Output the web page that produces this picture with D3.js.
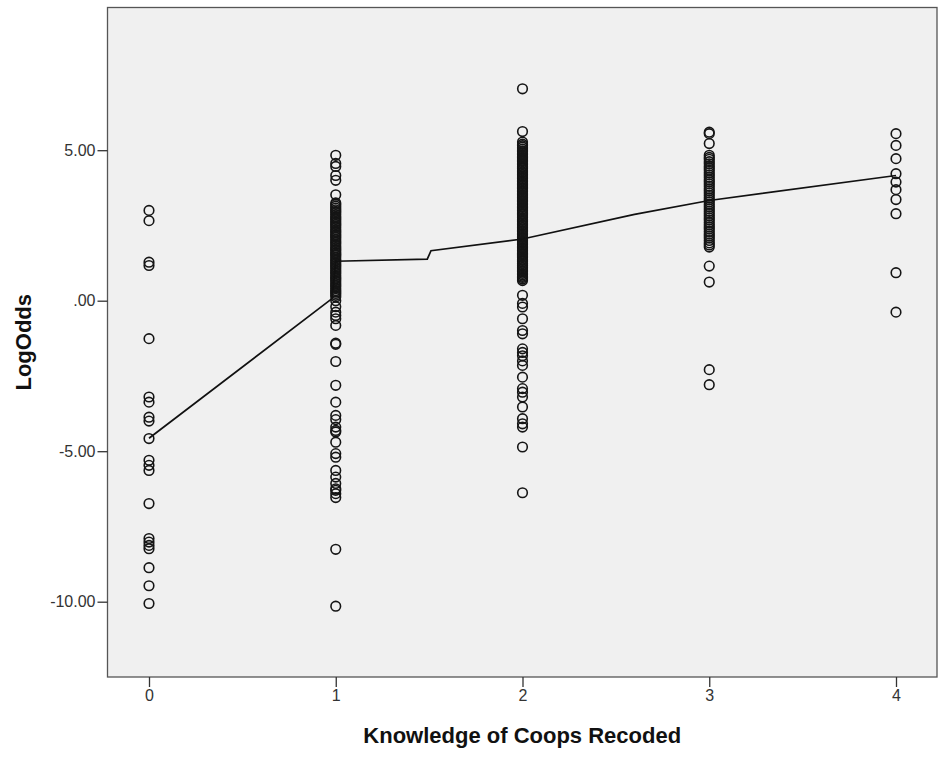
<!DOCTYPE html>
<html>
<head>
<meta charset="utf-8">
<script src="https://cdn.jsdelivr.net/npm/d3@7"></script>
<style>
  body { margin: 0; background: #fff; }
  svg { display: block; font-family: "Liberation Sans", Arial, sans-serif; }
</style>
</head>
<body>
<svg id="chart"></svg>
<script>
// data
var categories = [0, 1, 2, 3, 4];
var yTicks = [-10, -5, 0, 5];

var cat0 = [3.0, 2.66, 1.28, 1.17, -1.26, -3.2, -3.37, -3.87, -4.0, -4.58,
  -5.3, -5.47, -5.64, -6.74, -7.9, -8.02, -8.13, -8.24, -8.87, -9.47, -10.06];

var cat1 = [4.83, 4.56, 4.46, 4.16, 4.0, 3.52,
  3.25, 3.2, 3.14, 3.08, 3.02, 2.97, 2.92, 2.86, 2.8, 2.75, 2.7, 2.64, 2.58,
  2.53, 2.48, 2.42, 2.36, 2.31, 2.26, 2.2, 2.15, 2.1, 2.04, 1.98, 1.93, 1.88,
  1.82, 1.76, 1.71, 1.66, 1.6, 1.55, 1.5, 1.44, 1.38, 1.33, 1.28, 1.22, 1.17,
  1.12, 1.06, 1.0, 0.95, 0.9, 0.84, 0.78, 0.73, 0.68, 0.62, 0.56, 0.51, 0.46,
  0.4, 0.34, 0.29, 0.24, 0.18, 0.12,
  0.0, -0.2, -0.38, -0.49, -0.6, -0.82, -1.41, -1.45,
  -2.02, -2.81, -3.37, -3.81, -3.95, -4.2, -4.31, -4.36, -4.7, -5.08, -5.2,
  -5.64, -5.86, -6.07, -6.25, -6.3, -6.41, -6.54, -8.26, -10.15];

var cat2 = [7.04, 5.62,
  5.27, 5.2, 5.15, 5.1, 5.04, 4.98, 4.95, 4.9, 4.85, 4.8, 4.76, 4.71, 4.66,
  4.62, 4.57, 4.52, 4.47, 4.43, 4.38, 4.33, 4.28, 4.24, 4.19, 4.14, 4.1, 4.05,
  4.0, 3.95, 3.9, 3.86, 3.81, 3.76, 3.72, 3.67, 3.62, 3.57, 3.52, 3.48, 3.43,
  3.38, 3.33, 3.29, 3.24, 3.19, 3.14, 3.1, 3.05, 3.0, 2.95, 2.9, 2.86, 2.81,
  2.76, 2.71, 2.67, 2.62, 2.57, 2.52, 2.48, 2.43, 2.38, 2.33, 2.29, 2.24, 2.19,
  2.14, 2.1, 2.05, 2.0, 1.95, 1.91, 1.86, 1.81, 1.76, 1.72, 1.67, 1.62, 1.57,
  1.53, 1.48, 1.43, 1.38, 1.34, 1.29, 1.24, 1.19, 1.15, 1.1, 1.05, 1.0, 0.96,
  0.91, 0.86, 0.81, 0.77, 0.72, 0.67,
  0.18, -0.09, -0.21, -0.6, -0.99, -1.1, -1.6, -1.72, -1.83, -2.0, -2.15, -2.54,
  -2.92, -3.04, -3.2, -3.53, -3.92, -4.09, -4.2, -4.86, -6.38];

var cat3 = [5.6, 5.55, 5.22,
  4.83, 4.76, 4.7, 4.62, 4.55, 4.47, 4.4, 4.33, 4.25, 4.18, 4.1, 4.02, 3.95,
  3.88, 3.8, 3.72, 3.65, 3.58, 3.5, 3.42, 3.35, 3.28, 3.2, 3.12, 3.05, 2.97,
  2.9, 2.82, 2.75, 2.68, 2.6, 2.52, 2.45, 2.38, 2.3, 2.22, 2.15, 2.08, 2.0,
  1.92, 1.85, 1.78,
  1.15, 0.62, -2.29, -2.79];

var cat4 = [5.55, 5.16, 4.72, 4.22, 3.94, 3.69, 3.36, 2.89, 0.93, -0.38];

// fit line (loess) vertices
var lineX = [0, 0.98, 1.0, 1.49, 1.51, 2.0, 2.6, 3.0, 4.0];
var lineY = [-4.57, 0.07, 1.31, 1.38, 1.66, 2.05, 2.87, 3.33, 4.16];

var width = 939, height = 761;
var plot = {left: 107.5, top: 7.5, right: 937, bottom: 677};

var svg = d3.select("#chart").attr("width", width).attr("height", height);

var x = d3.scaleLinear().domain([0, 4]).range([149, 896]);
var y = d3.scaleLinear().domain([-10, 5]).range([601.7, 150.2]);

svg.append("rect")
    .attr("x", plot.left).attr("y", plot.top)
    .attr("width", plot.right - plot.left).attr("height", plot.bottom - plot.top)
    .attr("fill", "#f0f0f0")
    .attr("stroke", "#555").attr("stroke-width", 1.3);

var fmt = function(d) { return d === 0 ? ".00" : d.toFixed(2); };

var yAxis = svg.append("g")
    .attr("transform", "translate(" + plot.left + ",0)")
    .call(d3.axisLeft(y).tickValues(yTicks).tickFormat(fmt).tickSize(10).tickPadding(2));
var xAxis = svg.append("g")
    .attr("transform", "translate(0," + plot.bottom + ")")
    .call(d3.axisBottom(x).tickValues(categories).tickFormat(d3.format("d")).tickSize(10).tickPadding(3));

[yAxis, xAxis].forEach(function(g) {
  g.select(".domain").remove();
  g.selectAll("line").attr("stroke", "#333").attr("stroke-width", 1.3);
  g.selectAll("text").attr("fill", "#333").style("font-size", "16px")
      .style("font-family", "'Liberation Sans', Arial, sans-serif");
});

var points = [];
[cat0, cat1, cat2, cat3, cat4].forEach(function(vals, i) {
  vals.forEach(function(v) { points.push({c: categories[i], v: v}); });
});

svg.append("g").selectAll("circle")
    .data(points)
  .enter().append("circle")
    .attr("cx", function(d) { return x(d.c); })
    .attr("cy", function(d) { return y(d.v); })
    .attr("r", 4.8)
    .attr("fill", "none")
    .attr("stroke", "#151515")
    .attr("stroke-width", 1.6);

var line = d3.line()
    .x(function(d, i) { return x(lineX[i]); })
    .y(function(d, i) { return y(lineY[i]); });

svg.append("path")
    .attr("d", line(lineX))
    .attr("fill", "none")
    .attr("stroke", "#111")
    .attr("stroke-width", 1.7);

svg.append("text")
    .attr("x", (plot.left + plot.right) / 2)
    .attr("y", 743)
    .attr("text-anchor", "middle")
    .style("font-size", "22px").style("font-weight", "bold").attr("fill", "#111")
    .text("Knowledge of Coops Recoded");

svg.append("text")
    .attr("transform", "translate(31," + ((plot.top + plot.bottom) / 2) + ") rotate(-90)")
    .attr("text-anchor", "middle")
    .style("font-size", "22px").style("font-weight", "bold").attr("fill", "#111")
    .text("LogOdds");
</script>
</body>
</html>
